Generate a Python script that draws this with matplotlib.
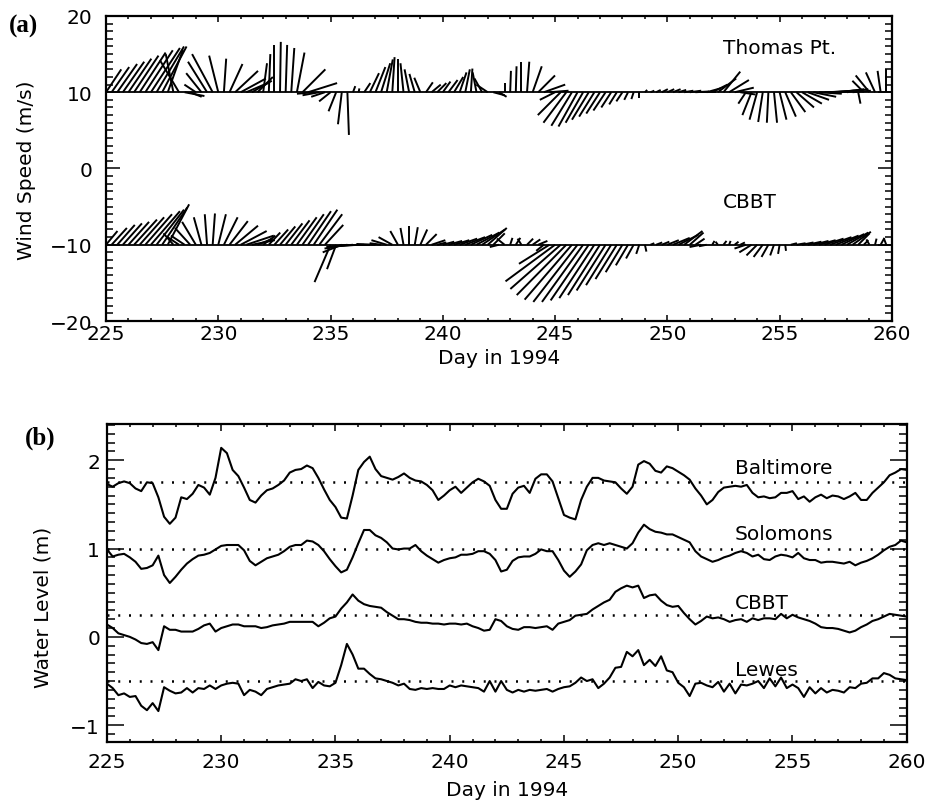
"""Wind stick plot and water level series, Chesapeake Bay, days 225-260 of 1994."""

import matplotlib

matplotlib.use("Agg")

import matplotlib.pyplot as plt
import numpy as np
from matplotlib.collections import LineCollection
from matplotlib.ticker import MultipleLocator

DAY0 = 225.0
STEP = 0.25  # samples every 6 h

# ---- panel (a): wind components (m/s), one row per day -------------------
thomas_u = [
    2.0, 2.3, 2.6, 2.8,   3.0, 3.2, 3.4, 3.6,   3.8, 3.6, 3.2, 2.0,
    -1.0, -2.5, 2.6, 1.5,   -1.5, -2.0, -2.5, -2.7,   -1.2, 0.3, 1.7, 3.0,
    3.3, 2.8, 2.6, 2.0,   0.5, 0.2, 0.0, 0.1,   0.2, 0.4, 1.0, 3.0,
    3.8, -2.2, -2.2, -1.8,   -1.5, -1.0, -0.5, 0.2,   0.3, 0.1, 0.8, 1.2,
    1.3, 1.2, 0.8, 0.3,   0.0, -0.4, -0.6, -0.7,   -0.8, 0.9, 1.2, 1.2,
    1.0, 1.2, 1.2, 0.9,   0.6, 0.2, -0.5, -1.0,   -1.5, 1.5, 1.0, 0.0,
    0.1, 0.1, 0.0, 0.3,   1.2, 2.2, 2.8, 2.5,   -2.0, -3.0, -3.0, -2.7,
    -2.5, -2.3, -2.2, -2.0,   -1.8, -1.6, -1.3, -1.0,   -0.8, -0.5, -0.3, 0.0,
    0.3, 0.5, 0.6, 0.8,   0.9, 1.0, 1.0, 1.2,   1.5, 1.8, 2.0, 1.8,
    2.0, 2.4, 2.2, 2.6,   2.5, 2.0, -1.0, -1.2,   -1.0, -0.6, -0.2, 0.4,
    0.9, 1.4, 1.9, 2.3,   2.6, 2.8, 3.0, 3.0,   3.0, 3.2, 3.2, 3.0,
    2.8, 2.4, 0.3, -1.5,   -1.8, -1.2, -0.4, 0.0,   0.2,
]
thomas_v = [
    3.0, 3.3, 3.7, 4.0,   4.4, 4.8, 5.2, 5.5,   5.8, 6.0, 6.0, 5.6,
    5.0, 4.2, -0.5, -0.6,   1.0, 2.5, 4.0, 5.0,   4.8, 4.4, 3.7, 2.8,
    1.8, 1.2, 1.5, 2.0,   3.8, 5.0, 6.2, 6.6,   6.2, 5.8, 5.2, 3.0,
    1.2, -0.2, -0.4, -0.6,   -1.2, -2.5, -4.2, -5.6,   0.8, 0.5, 1.2, 2.5,
    3.3, 3.8, 4.3, 4.6,   4.4, 3.8, 3.0, 2.4,   1.9, 1.3, 1.0, 1.2,
    1.4, 1.6, 2.0, 2.6,   3.0, 3.1, 2.6, 1.8,   1.0, -0.4, -0.6, 1.2,
    2.8, 3.4, 4.0, 4.0,   3.4, 2.2, 1.0, 0.2,   -1.0, -3.0, -4.0, -4.4,
    -4.5, -4.0, -3.6, -3.2,   -2.8, -2.4, -2.0, -1.6,   -1.2, -1.0, -0.9, -0.8,
    0.3, 0.2, 0.3, 0.4,   0.4, 0.4, 0.3, 0.2,   0.2, 0.1, 0.0, 0.5,
    1.0, 1.8, 2.7, 1.6,   0.6, -0.3, -1.5, -3.0,   -3.6, -3.9, -4.0, -4.0,
    -3.6, -3.2, -2.6, -2.0,   -1.5, -1.0, -0.6, -0.2,   0.1, 0.2, 0.3, 0.4,
    0.4, 0.2, -1.5, 1.5,   2.2, 2.6, 2.8, 3.0,   2.6,
]
cbbt_u = [
    1.5, 2.0, 2.3, 2.5,   2.7, 3.0, 3.2, 3.5,   3.8, 3.6, 3.3, 2.8,
    -1.3, -1.5, -1.8, -2.0,   -1.8, -1.0, -0.3, 0.3,   1.0, 1.8, 2.4, 3.0,
    3.4, 3.6, 3.0, 2.0,   1.6, 1.5, 1.8, 2.0,   2.2, 2.4, 2.6, 2.8,
    3.0, 3.1, 3.0, 2.4,   -2.1, -1.2, -2.5, -3.0,   -3.5, -3.5, -3.2, -3.0,
    -2.5, -1.5, -2.0, -1.8,   -1.0, -0.4, 0.0, 0.4,   0.9, 1.4, 1.8, 1.2,
    1.5, 1.8, 2.0, 2.3,   2.6, 2.8, 3.0, 3.0,   2.5, 1.5, -1.2, -1.0,
    0.3, 0.6, -0.5, 0.8,   1.0, 1.2, -1.0, -4.0,   -6.5, -6.6, -6.5, -6.2,
    -5.8, -5.4, -5.0, -4.6,   -4.2, -3.8, -3.3, -2.8,   -2.2, -1.6, -1.0, -0.4,
    0.2, 0.5, 0.8, 1.0,   1.5, 2.2, 2.6, 2.4,   1.8, 1.2, -1.5, -1.0,
    0.3, -0.3, 0.4, 0.2,   0.5, 0.6, -1.5, -1.6,   -1.4, -1.2, -0.9, -0.5,
    -0.2, 0.1, 0.8, 1.2,   1.5, 1.8, 2.0, 2.2,   2.5, 2.8, 3.0, 3.0,
    2.8, 2.4, 1.5, 0.6,   -0.4, 0.2, 0.5, -0.3,   0.3,
]
cbbt_v = [
    1.8, 2.2, 2.6, 2.8,   3.0, 3.3, 3.6, 4.0,   4.4, 4.6, 4.9, 5.3,
    1.5, 1.0, 1.2, 2.2,   3.0, 3.6, 4.0, 4.1,   4.0, 3.6, 3.1, 2.5,
    1.8, 1.2, 0.6, 0.8,   1.2, 1.6, 2.0, 2.4,   2.8, 3.2, 3.6, 4.0,
    4.4, 4.6, 4.0, 2.6,   -4.9, -3.2, -1.0, -0.5,   -0.3, -0.2, -0.1, 0.0,
    0.1, 0.2, 0.6, 1.0,   1.8, 2.2, 2.4, 2.3,   2.0, 1.4, 0.6, 0.3,
    0.4, 0.5, 0.6, 0.8,   1.0, 1.3, 1.6, 2.0,   2.2, 1.5, -0.3, 0.8,
    0.9, 0.9, 0.8, 0.8,   0.7, 0.5, -0.8, -2.5,   -4.8, -5.8, -6.6, -7.2,
    -7.5, -7.5, -7.3, -7.0,   -6.6, -6.0, -5.3, -4.5,   -3.6, -2.7, -1.8, -1.2,
    -0.9, 0.2, 0.3, 0.4,   0.6, 0.9, 1.3, 1.8,   1.6, 0.8, -0.3, -0.2,
    0.5, 0.4, 0.5, 0.5,   0.4, 0.3, -0.5, -1.0,   -1.4, -1.6, -1.6, -1.4,
    -1.2, -0.8, 0.2, 0.2,   0.3, 0.4, 0.5, 0.6,   0.8, 1.0, 1.2, 1.4,
    1.6, 1.7, 1.5, 0.6,   0.7, 0.8, 0.9, 0.8,   0.6,
]
wind_stations = ["Thomas Pt.", "CBBT"]
wind_offsets = [10, -10]

# ---- panel (b): water level (m), already offset in the original ----------
baltimore = [
    1.73, 1.70, 1.74, 1.76,   1.74, 1.68, 1.65, 1.75,   1.74, 1.58, 1.36, 1.28,
    1.35, 1.58, 1.56, 1.62,   1.72, 1.69, 1.61, 1.80,   2.14, 2.08, 1.89, 1.82,
    1.69, 1.55, 1.52, 1.60,   1.66, 1.68, 1.72, 1.77,   1.86, 1.89, 1.90, 1.94,
    1.91, 1.80, 1.67, 1.55,   1.47, 1.35, 1.34, 1.60,   1.89, 1.98, 2.04, 1.90,
    1.82, 1.80, 1.78, 1.81,   1.85, 1.80, 1.77, 1.76,   1.72, 1.66, 1.55, 1.60,
    1.66, 1.70, 1.63, 1.69,   1.75, 1.79, 1.76, 1.71,   1.55, 1.45, 1.45, 1.62,
    1.69, 1.71, 1.63, 1.79,   1.84, 1.84, 1.76, 1.57,   1.38, 1.35, 1.33, 1.55,
    1.70, 1.80, 1.80, 1.77,   1.76, 1.75, 1.68, 1.62,   1.70, 1.95, 1.99, 1.96,
    1.88, 1.86, 1.93, 1.91,   1.87, 1.83, 1.78, 1.68,   1.60, 1.50, 1.55, 1.64,
    1.69, 1.70, 1.71, 1.70,   1.72, 1.63, 1.58, 1.59,   1.57, 1.58, 1.63, 1.63,
    1.65, 1.56, 1.59, 1.53,   1.58, 1.61, 1.57, 1.60,   1.59, 1.56, 1.59, 1.63,
    1.55, 1.55, 1.63, 1.69,   1.75, 1.83, 1.86, 1.90,   1.89,
]
solomons = [
    0.99, 0.91, 0.93, 0.94,   0.90, 0.85, 0.77, 0.78,   0.81, 0.92, 0.70, 0.61,
    0.68, 0.76, 0.83, 0.88,   0.92, 0.93, 0.95, 0.99,   1.03, 1.04, 1.04, 1.04,
    0.98, 0.86, 0.81, 0.85,   0.89, 0.91, 0.93, 0.97,   1.02, 1.04, 1.04, 1.09,
    1.08, 1.04, 0.97, 0.88,   0.80, 0.73, 0.76, 0.90,   1.06, 1.21, 1.21, 1.15,
    1.12, 1.07, 1.00, 0.99,   1.00, 1.00, 1.04, 0.97,   0.92, 0.88, 0.84, 0.87,
    0.89, 0.90, 0.93, 0.93,   0.94, 0.97, 0.97, 0.94,   0.87, 0.74, 0.76, 0.86,
    0.90, 0.91, 0.91, 0.94,   0.99, 0.97, 0.97, 0.87,   0.75, 0.68, 0.74, 0.82,
    0.98, 1.04, 1.06, 1.04,   1.06, 1.04, 1.02, 1.00,   1.06, 1.18, 1.27, 1.22,
    1.19, 1.18, 1.16, 1.16,   1.13, 1.10, 1.07, 0.97,   0.91, 0.88, 0.85, 0.87,
    0.90, 0.92, 0.95, 0.97,   0.95, 0.91, 0.93, 0.88,   0.87, 0.91, 0.93, 0.92,
    0.90, 0.95, 0.89, 0.87,   0.87, 0.84, 0.85, 0.85,   0.84, 0.83, 0.85, 0.81,
    0.84, 0.86, 0.89, 0.93,   0.98, 1.02, 1.04, 1.09,   1.07,
]
cbbt_level = [
    0.14, 0.10, 0.04, 0.02,   0.00, -0.03, -0.07, -0.08,   -0.06, -0.15, 0.12, 0.08,
    0.08, 0.06, 0.06, 0.06,   0.09, 0.13, 0.15, 0.06,   0.10, 0.12, 0.14, 0.14,
    0.12, 0.12, 0.12, 0.10,   0.11, 0.13, 0.14, 0.15,   0.17, 0.17, 0.17, 0.17,
    0.17, 0.12, 0.16, 0.21,   0.23, 0.32, 0.39, 0.48,   0.41, 0.37, 0.35, 0.34,
    0.33, 0.28, 0.24, 0.20,   0.20, 0.19, 0.17, 0.16,   0.16, 0.15, 0.15, 0.14,
    0.15, 0.15, 0.14, 0.15,   0.12, 0.10, 0.07, 0.08,   0.20, 0.18, 0.12, 0.09,
    0.08, 0.11, 0.11, 0.10,   0.11, 0.12, 0.08, 0.15,   0.17, 0.19, 0.24, 0.25,
    0.26, 0.31, 0.35, 0.39,   0.42, 0.51, 0.55, 0.58,   0.56, 0.58, 0.44, 0.47,
    0.48, 0.41, 0.36, 0.34,   0.35, 0.27, 0.20, 0.14,   0.18, 0.23, 0.21, 0.22,
    0.20, 0.17, 0.19, 0.20,   0.17, 0.21, 0.19, 0.21,   0.21, 0.20, 0.26, 0.21,
    0.25, 0.22, 0.20, 0.18,   0.15, 0.11, 0.10, 0.10,   0.09, 0.07, 0.05, 0.07,
    0.11, 0.14, 0.18, 0.20,   0.23, 0.26, 0.25, 0.24,   0.23,
]
lewes = [
    -0.53, -0.58, -0.66, -0.64,   -0.68, -0.67, -0.78, -0.83,   -0.75, -0.84, -0.57, -0.61,
    -0.64, -0.63, -0.58, -0.63,   -0.58, -0.59, -0.55, -0.59,   -0.55, -0.53, -0.52, -0.53,
    -0.66, -0.60, -0.62, -0.66,   -0.59, -0.57, -0.55, -0.54,   -0.53, -0.48, -0.50, -0.48,
    -0.58, -0.51, -0.55, -0.56,   -0.52, -0.32, -0.08, -0.20,   -0.36, -0.36, -0.42, -0.47,
    -0.48, -0.50, -0.52, -0.55,   -0.53, -0.59, -0.60, -0.58,   -0.59, -0.58, -0.59, -0.59,
    -0.55, -0.57, -0.55, -0.56,   -0.57, -0.58, -0.62, -0.50,   -0.62, -0.50, -0.60, -0.63,
    -0.60, -0.62, -0.60, -0.61,   -0.60, -0.59, -0.62, -0.59,   -0.57, -0.56, -0.52, -0.46,
    -0.50, -0.48, -0.58, -0.53,   -0.46, -0.35, -0.34, -0.17,   -0.22, -0.15, -0.32, -0.26,
    -0.33, -0.22, -0.38, -0.40,   -0.52, -0.57, -0.67, -0.53,   -0.52, -0.55, -0.57, -0.51,
    -0.62, -0.53, -0.64, -0.54,   -0.55, -0.53, -0.50, -0.58,   -0.47, -0.56, -0.46, -0.58,
    -0.54, -0.58, -0.68, -0.57,   -0.64, -0.58, -0.63, -0.60,   -0.61, -0.63, -0.57, -0.58,
    -0.53, -0.52, -0.47, -0.47,   -0.41, -0.43, -0.47, -0.48,   -0.49,
]
level_names = ["Baltimore", "Solomons", "CBBT", "Lewes"]
level_means = [1.75, 1.0, 0.25, -0.5]

XLIM = (225, 260)
FONT = "DejaVu Sans"


def _days(values):
    return DAY0 + STEP * np.arange(len(values))


def _frame(ax, xmaj, xmin, ymaj, ymin, xpad, ypad):
    for sp in ax.spines.values():
        sp.set_linewidth(1.6)
    ax.set_xlim(*XLIM)
    ax.xaxis.set_major_locator(MultipleLocator(5))
    ax.xaxis.set_minor_locator(MultipleLocator(1))
    ax.tick_params(which="both", direction="in", top=True, right=True,
                   width=1.1, labelsize=14.5)
    ax.tick_params(axis="x", which="major", length=xmaj, pad=xpad)
    ax.tick_params(axis="x", which="minor", length=xmin)
    ax.tick_params(axis="y", which="major", length=ymaj, pad=ypad)
    ax.tick_params(axis="y", which="minor", length=ymin)


def _sticks(ax, u, v, base, k):
    t = _days(u)
    u = np.asarray(u)
    v = np.asarray(v)
    start = np.column_stack([t, np.full_like(t, base)])
    end = np.column_stack([t + k * u, base + v])
    segs = np.stack([start, end], axis=1)
    ax.add_collection(LineCollection(segs, colors="k", linewidths=1.4,
                                     capstyle="butt"))
    ax.axhline(base, color="k", lw=1.3)


def main() -> int:
    plt.rcParams["font.family"] = FONT
    fig = plt.figure(figsize=(9.3, 8.04), dpi=100)

    # panel (a)
    pos_a = [0.114, 0.5995, 0.845, 0.3794]
    ax1 = fig.add_axes(pos_a)
    ax1.set_ylim(-20, 20)
    ax1.yaxis.set_major_locator(MultipleLocator(10))
    ax1.yaxis.set_minor_locator(MultipleLocator(1))
    _frame(ax1, 4.3, 2.4, 10, 4.8, 2, 10)

    # days per m/s so that sticks keep their true direction on screen
    w_in = 9.3 * pos_a[2]
    h_in = 8.04 * pos_a[3]
    k = (XLIM[1] - XLIM[0]) / w_in / (40.0 / h_in)

    _sticks(ax1, thomas_u, thomas_v, wind_offsets[0], k)
    _sticks(ax1, cbbt_u, cbbt_v, wind_offsets[1], k)
    ax1.text(252.47, 15.1, wind_stations[0], fontsize=14.5, va="baseline")
    ax1.text(252.47, -5.0, wind_stations[1], fontsize=14.5, va="baseline")
    ax1.set_xlabel("Day in 1994", fontsize=14.5, labelpad=4)

    # panel (b)
    ax2 = fig.add_axes([0.115, 0.0759, 0.860, 0.3955])
    ax2.set_ylim(-1.19, 2.41)
    ax2.yaxis.set_major_locator(MultipleLocator(1))
    ax2.yaxis.set_minor_locator(MultipleLocator(0.1))
    _frame(ax2, 4.8, 2.4, 12, 6, 7, 5)

    series = [baltimore, solomons, cbbt_level, lewes]
    label_y = [1.86, 1.11, 0.33, -0.43]
    for name, vals, mean, ly in zip(level_names, series, level_means, label_y):
        ax2.plot(_days(vals), vals, color="k", lw=1.5)
        ax2.axhline(mean, color="k", lw=1.8, ls=(0, (0.8, 3.5)))
        ax2.text(252.47, ly, name, fontsize=14.5, va="baseline")
    ax2.set_xlabel("Day in 1994", fontsize=14.5, labelpad=7)

    fig.text(27 / 930, 1 - 170 / 804, "Wind Speed (m/s)", rotation=90,
             fontsize=14.5, ha="center", va="center")
    fig.text(43 / 930, 1 - 607 / 804, "Water Level (m)", rotation=90,
             fontsize=14.5, ha="center", va="center")
    fig.text(9 / 930, 1 - 26 / 804, "(a)", fontsize=18, fontweight="bold",
             family="Liberation Serif", va="center")
    fig.text(25 / 930, 1 - 438 / 804, "(b)", fontsize=18, fontweight="bold",
             family="Liberation Serif", va="center")

    fig.savefig("out.png", dpi=100)
    return 0


if __name__ == "__main__":
    raise SystemExit(main())
